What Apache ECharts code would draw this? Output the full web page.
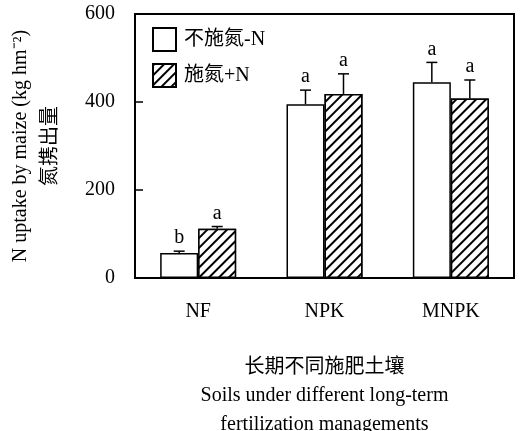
<!DOCTYPE html>
<html>
<head>
<meta charset="utf-8">
<script src="https://cdn.jsdelivr.net/npm/echarts@6/dist/echarts.min.js"></script>
<style>
  html, body { margin: 0; padding: 0; background: #fff; }
  #showChart { width: 523px; height: 431px; }
</style>
</head>
<body>
<div id="showChart"></div>
<script>
// 数据
var categories = ['NF', 'NPK', 'MNPK'];
var seriesNames = ['不施氮-N', '施氮+N'];
var noN = [57, 395, 445];        // 不施氮
var noNErr = [4, 32, 45];
var noNLetters = ['b', 'a', 'a'];
var withN = [112, 418, 408];     // 施氮
var withNErr = [5, 46, 42];
var withNLetters = ['a', 'a', 'a'];
var yTicks = [0, 200, 400, 600];

var serif = '"Liberation Serif", "Times New Roman", "Noto Sans CJK SC", serif';
var barW = 38;

var myChart = echarts.init(document.getElementById('showChart'));

function errData(vals, errs) {
  var out = [];
  for (var i = 0; i < vals.length; i++) out.push([i, vals[i], errs[i]]);
  return out;
}

// 误差线 + 显著性字母
function errItem(sign, letters) {
  return function (params, api) {
    var i = api.value(0), mean = api.value(1), err = api.value(2);
    var base = api.coord([i, mean]);
    var top = api.coord([i, mean + err]);
    var x = base[0] + sign * barW / 2;
    return {
      type: 'group',
      children: [
        { type: 'line', shape: { x1: x, y1: base[1], x2: x, y2: top[1] }, style: { stroke: '#000', lineWidth: 1.5 } },
        { type: 'line', shape: { x1: x - 5.5, y1: top[1], x2: x + 5.5, y2: top[1] }, style: { stroke: '#000', lineWidth: 1.5 } },
        { type: 'text', style: { text: letters[params.dataIndex], x: x, y: top[1] - 3, align: 'center', verticalAlign: 'bottom', font: '20px ' + serif, fill: '#000' } }
      ]
    };
  };
}

var hatch = {
  symbol: 'rect',
  symbolSize: 1,
  dashArrayX: [1, 0],
  dashArrayY: [1.6, 4.4],
  rotation: -Math.PI / 4,
  color: '#000',
  backgroundColor: '#fff'
};

option = {
  animation: false,
  backgroundColor: '#fff',
  textStyle: { fontFamily: serif, color: '#000' },
  grid: {
    left: 135, right: 9, top: 14, bottom: 153,
    outerBoundsMode: 'none', containLabel: false,
    show: true, borderColor: '#000', borderWidth: 2, backgroundColor: 'transparent'
  },
  legend: {
    orient: 'vertical',
    left: 147, top: 22,
    icon: 'rect',
    itemWidth: 23, itemHeight: 23, itemGap: 11,
    data: seriesNames,
    textStyle: { fontFamily: serif, fontSize: 20, color: '#000', padding: [0, 0, 0, 3] }
  },
  xAxis: {
    type: 'category',
    data: categories,
    axisLine: { lineStyle: { color: '#000', width: 2 } },
    axisTick: { show: false },
    axisLabel: { fontFamily: serif, fontSize: 20, color: '#000', margin: 24 },
    name: '长期不同施肥土壤\nSoils under different long-term\nfertilization managements',
    nameLocation: 'middle',
    nameGap: 75,
    nameTextStyle: { fontFamily: serif, fontSize: 20, color: '#000', lineHeight: 28.5 }
  },
  yAxis: {
    type: 'value',
    min: 0, max: 600, interval: 200,
    splitLine: { show: false },
    axisLine: { show: true, lineStyle: { color: '#000', width: 2 } },
    axisTick: { show: true, inside: true, length: 8, lineStyle: { color: '#000', width: 1.5 } },
    axisLabel: { fontFamily: serif, fontSize: 20, color: '#000', margin: 20,
      formatter: function (v) { return yTicks.indexOf(v) >= 0 ? String(v) : ''; } },
    name: 'N uptake by maize (kg hm\u207B\u00B2)\n氮携出量',
    nameLocation: 'middle',
    nameRotate: 90,
    nameGap: 69,
    nameTextStyle: { fontFamily: serif, fontSize: 20, color: '#000', lineHeight: 30 }
  },
  series: [
    {
      name: seriesNames[0], type: 'bar', data: noN,
      barWidth: barW, barGap: '0%',
      itemStyle: { color: '#fff', borderColor: '#000', borderWidth: 1.5 }
    },
    {
      name: seriesNames[1], type: 'bar', data: withN,
      barWidth: barW, barGap: '0%',
      itemStyle: { color: '#fff', borderColor: '#000', borderWidth: 1.5, decal: hatch }
    },
    {
      type: 'custom', renderItem: errItem(-1, noNLetters), data: errData(noN, noNErr),
      encode: { x: 0, y: 1 }, z: 5, silent: true
    },
    {
      type: 'custom', renderItem: errItem(1, withNLetters), data: errData(withN, withNErr),
      encode: { x: 0, y: 1 }, z: 5, silent: true
    }
  ]
};

myChart.setOption(option);
</script>
</body>
</html>
